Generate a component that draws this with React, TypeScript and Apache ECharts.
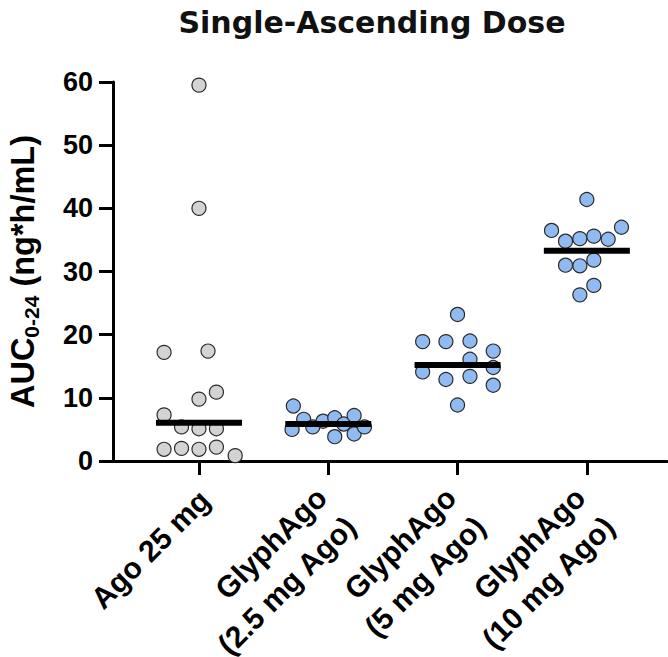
import React, { useEffect, useRef } from "react";
import * as echarts from "echarts";

// Categories / tick labels
const categories = ["Ago 25 mg", "GlyphAgo\n(2.5 mg Ago)", "GlyphAgo\n(5 mg Ago)", "GlyphAgo\n(10 mg Ago)"];
const categoryPositions = [0, 1, 2, 3];
const yTicks = [0, 10, 20, 30, 40, 50, 60];

// Individual AUC values per group, with horizontal jitter (in category units)
const ago25Values = [59.5, 40.0, 17.2, 17.4, 10.9, 9.8, 7.3, 5.4, 5.1, 5.1, 1.85, 2.0, 1.85, 2.2, 0.85];
const ago25Jitter = [0, 0, -0.27, 0.07, 0.135, 0, -0.27, -0.135, 0, 0.135, -0.27, -0.135, 0, 0.135, 0.28];

const glyph25Values = [8.7, 6.6, 5.0, 5.4, 6.3, 6.85, 3.85, 5.85, 7.2, 4.27, 5.4];
const glyph25Jitter = [-0.27, -0.19, -0.28, -0.12, -0.04, 0.05, 0.05, 0.12, 0.2, 0.2, 0.28];

const glyph5Values = [23.2, 18.9, 18.9, 19.0, 17.4, 16.1, 14.1, 14.8, 12.9, 13.4, 12.0, 8.86];
const glyph5Jitter = [0, -0.27, -0.09, 0.096, 0.276, 0.096, -0.27, 0.276, -0.09, 0.096, 0.276, 0];

const glyph10Values = [41.4, 36.5, 37.0, 34.8, 35.2, 35.6, 35.1, 31.0, 30.9, 31.8, 27.8, 26.3];
const glyph10Jitter = [0, -0.273, 0.268, -0.165, -0.054, 0.054, 0.165, -0.165, -0.054, 0.054, 0.054, -0.054];

// Medians (horizontal bars)
const medians = [6.06, 5.85, 15.2, 33.3];

// label anchor nudges (category units) so rotated labels sit like the original
const singleLineNudge = 0.043;
const twoLineNudge = 0.06;

const AX = '"Liberation Sans", Arial, sans-serif';

function pts(cat: number, vals: number[], jit: number[]) {
  return vals.map((v, i) => [cat + jit[i], v]);
}

const labelStyle = {
  rotate: 45,
  fontFamily: AX,
  fontWeight: "bold",
  fontSize: 30,
  lineHeight: 41,
  color: "#000",
  showMinLabel: true,
  showMaxLabel: true,
  hideOverlap: false,
  formatter: (v: number) => categories[Math.round(v - 0.1)] ?? "",
};

export default function App() {
  const ref = useRef<HTMLDivElement>(null);
  useEffect(() => {
    if (!ref.current) return;
    const chart = echarts.init(ref.current, undefined, { renderer: "svg" });
    const gray = { color: "#d3d3d3", borderColor: "#2a2a2a", borderWidth: 1.2, opacity: 1 };
    const blue = { color: "#90bbf2", borderColor: "#2a2a2a", borderWidth: 1.2, opacity: 1 };
    const option: any = {
      animation: false,
      backgroundColor: "#ffffff",
      grid: { left: 113, right: 1, top: 82, bottom: 196, containLabel: false, outerBoundsMode: "none" },
      graphic: [
        {
          type: "text",
          x: 372,
          y: 7,
          style: {
            text: "Single-Ascending Dose",
            textAlign: "center",
            textVerticalAlign: "top",
            fontFamily: '"DejaVu Sans", sans-serif',
            fontWeight: 700,
            fontSize: 30,
            fill: "#111",
          },
        },
      ],
      xAxis: [
        {
          type: "value",
          position: "bottom",
          min: -0.665,
          max: 3.62,
          splitLine: { show: false },
          axisLine: { show: true, onZero: false, lineStyle: { color: "#000", width: 3 } },
          axisTick: { show: true, customValues: categoryPositions, length: 14, lineStyle: { color: "#000", width: 3 } },
          axisLabel: {
            ...labelStyle,
            customValues: categoryPositions.slice(1).map((c) => c + twoLineNudge),
            margin: 46,
          },
        },
        {
          type: "value",
          position: "bottom",
          min: -0.665,
          max: 3.62,
          splitLine: { show: false },
          axisLine: { show: false, onZero: false },
          axisTick: { show: false },
          axisLabel: {
            ...labelStyle,
            customValues: [categoryPositions[0] + singleLineNudge],
            margin: 34,
          },
        },
      ],
      yAxis: {
        type: "value",
        min: 0,
        max: 60,
        interval: 10,
        splitLine: { show: false },
        axisLine: { show: true, onZero: false, lineStyle: { color: "#000", width: 3 } },
        axisTick: { show: true, length: 14, lineStyle: { color: "#000", width: 3 } },
        axisLabel: {
          margin: 20,
          fontFamily: AX,
          fontWeight: "bold",
          fontSize: 27,
          color: "#000",
          formatter: (v: number) => (yTicks.includes(v) ? String(v) : ""),
        },
        name: "{a|AUC}{s|0-24}{a| (ng*h/mL)}",
        nameLocation: "middle",
        nameRotate: 90,
        nameGap: 71,
        nameTextStyle: {
          rich: {
            a: { fontFamily: AX, fontWeight: "bold", fontSize: 32.5, lineHeight: 38, color: "#000" },
            s: { fontFamily: AX, fontWeight: "bold", fontSize: 21, lineHeight: 21, verticalAlign: "bottom", color: "#000" },
          },
        },
      },
      series: [
        { type: "scatter", symbol: "circle", symbolSize: 14, itemStyle: gray, data: pts(0, ago25Values, ago25Jitter), z: 2 },
        { type: "scatter", symbol: "circle", symbolSize: 14, itemStyle: blue, data: pts(1, glyph25Values, glyph25Jitter), z: 2 },
        { type: "scatter", symbol: "circle", symbolSize: 14, itemStyle: blue, data: pts(2, glyph5Values, glyph5Jitter), z: 2 },
        { type: "scatter", symbol: "circle", symbolSize: 14, itemStyle: blue, data: pts(3, glyph10Values, glyph10Jitter), z: 2 },
        {
          type: "scatter",
          symbol: "rect",
          symbolSize: [86, 6],
          itemStyle: { color: "#000", opacity: 1 },
          data: medians.map((m, i) => [categoryPositions[i], m]),
          z: 5,
        },
      ],
    };
    chart.setOption(option);
    return () => chart.dispose();
  }, []);
  return <div ref={ref} style={{ position: "fixed", left: 0, top: 0, width: 668, height: 657 }} />;
}
